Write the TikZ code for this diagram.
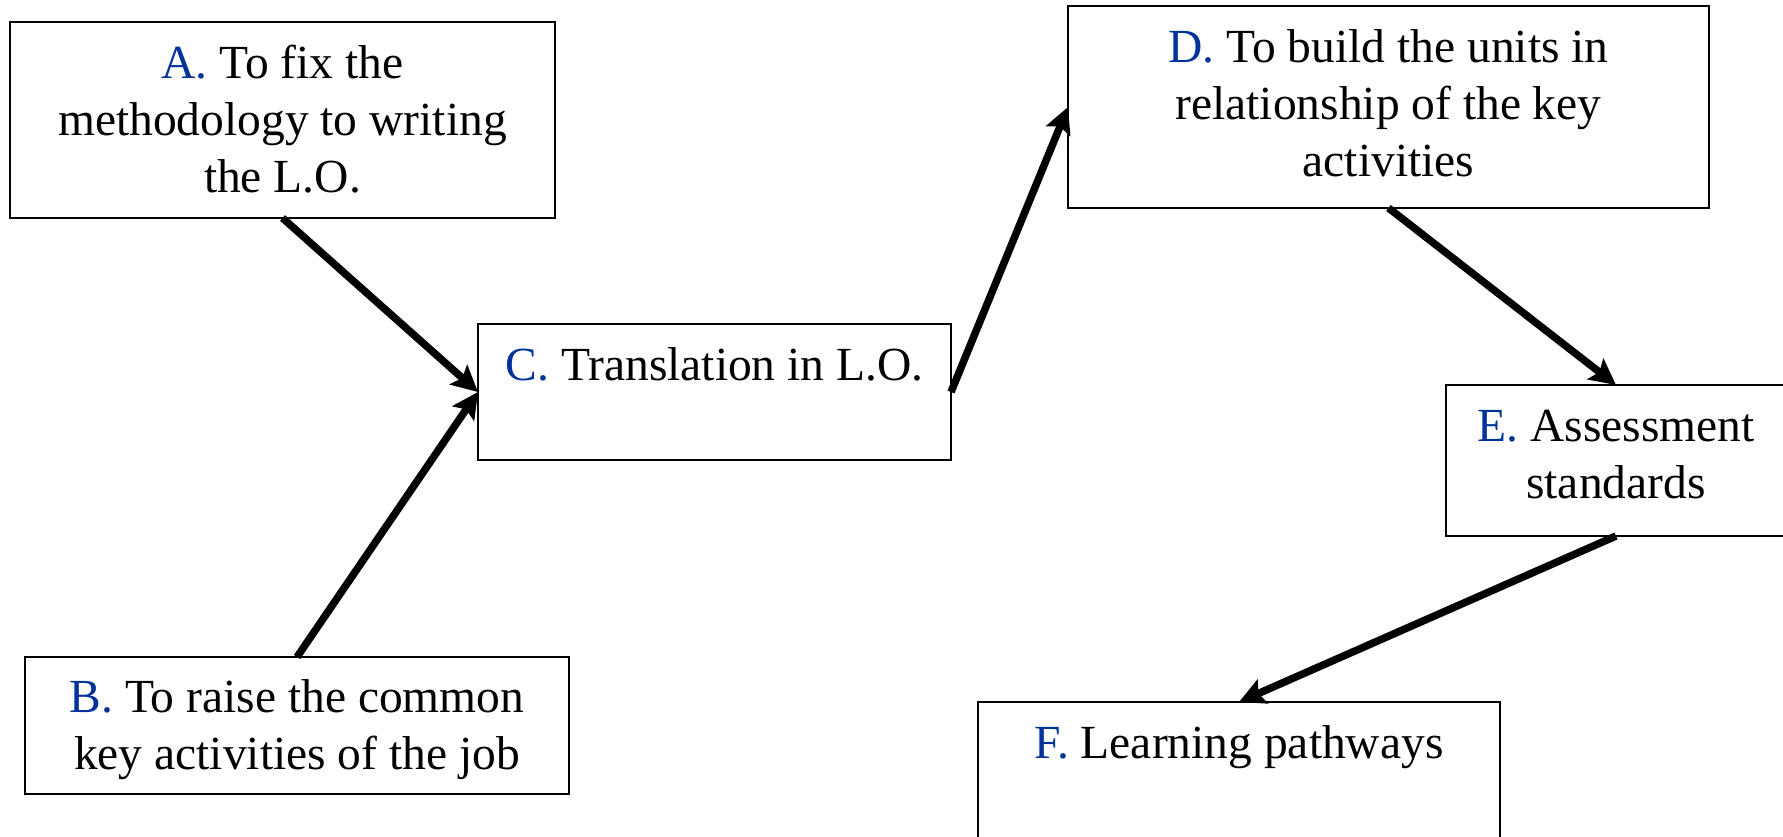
\documentclass[tikz,border=0pt]{standalone}
\usepackage{fontspec}
\setmainfont{Liberation Serif}
\usetikzlibrary{arrows.meta}
\definecolor{lblue}{RGB}{0,51,153}
\begin{document}
\begin{tikzpicture}[x=1pt,y=-1pt,
  box/.style={draw=black, line width=2pt, rectangle, inner sep=0pt, outer sep=0pt},
  lbl/.style={anchor=north, align=center, inner sep=0pt, font=\fontsize{47.5}{57}\selectfont},
  conn/.style={line width=7.5pt, -{Stealth[length=26pt,width=26pt,inset=5pt]}}]
\fill[white] (0,0) rectangle (1783,836);
\useasboundingbox (0,0) rectangle (1783,836);
\clip (0,0) rectangle (1783,836);
% boxes
\node[box, minimum width=545pt, minimum height=196pt] (A) at (282.5,120) {};
\node[box, minimum width=544pt, minimum height=137pt] (B) at (297,725.5) {};
\node[box, minimum width=473pt, minimum height=136pt] (C) at (714.5,392) {};
\node[box, minimum width=641pt, minimum height=202pt] (D) at (1388.5,107) {};
\node[box, minimum width=340pt, minimum height=151pt] (E) at (1616,460.5) {};
\node[box, minimum width=522pt, minimum height=198pt] (F) at (1239,801) {};
% labels
\node[lbl, yshift=-16pt] (At) at (A.north) {\rule{0pt}{40pt}\textcolor{lblue}{A.} To fix the\\methodology to writing\\the L.O.};
\node[lbl, yshift=-15pt] (Bt) at (B.north) {\rule{0pt}{40pt}\textcolor{lblue}{B.} To raise the common\\key activities of the job};
\node[lbl, yshift=-16pt] (Ct) at (C.north) {\rule{0pt}{40pt}\textcolor{lblue}{C.} Translation in L.O.};
\node[lbl, yshift=-16pt] (Dt) at (D.north) {\rule{0pt}{40pt}\textcolor{lblue}{D.} To build the units in\\relationship of the key\\activities};
\node[lbl, yshift=-16pt] (Et) at (E.north) {\rule{0pt}{40pt}\textcolor{lblue}{E.} Assessment\\standards};
\node[lbl, yshift=-16pt] (Ft) at (F.north) {\rule{0pt}{40pt}\textcolor{lblue}{F.} Learning pathways};
% connectors
\draw[conn] (A.south) -- (C.west);
\draw[conn] (B.north) -- (C.west);
\draw[conn] (C.east) -- (D.west);
\draw[conn] (D.south) -- (E.north);
\draw[conn] (E.south) -- (F.north);
\end{tikzpicture}
\end{document}
